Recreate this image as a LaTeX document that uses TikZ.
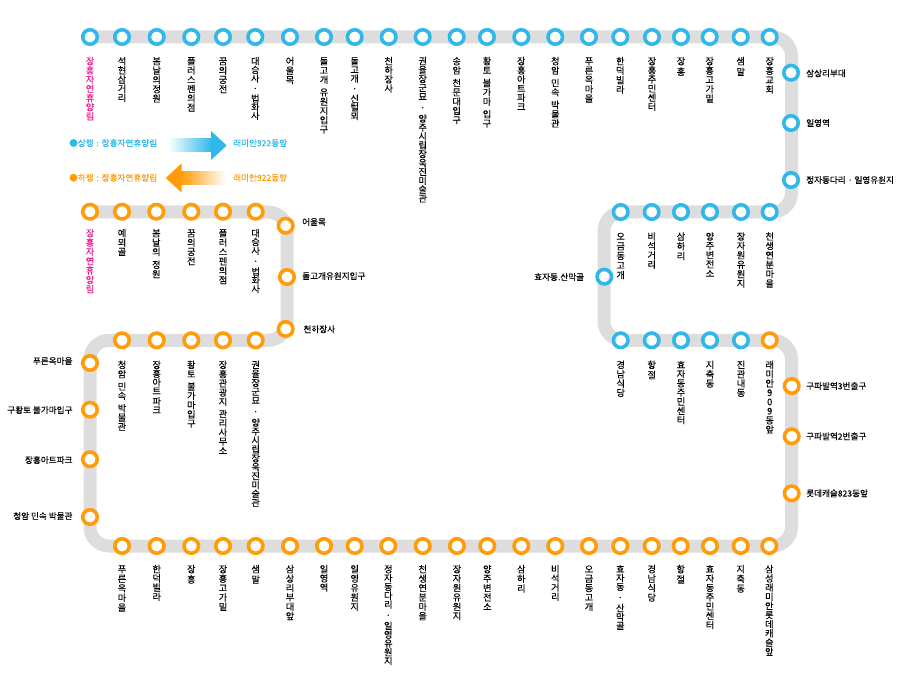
\documentclass[tikz,border=0pt]{standalone}
\usepackage{fontspec}
\newfontfamily\cjk[FakeBold=0.15]{Noto Sans CJK KR}
\definecolor{lineblue}{HTML}{30B8EA}
\definecolor{lineorange}{HTML}{FF9C08}
\definecolor{linegray}{HTML}{DDDDDD}
\definecolor{startpink}{HTML}{EC1A8C}
\makeatletter
\newcommand\vcell[1]{\hbox to 12pt{\hss\raisebox{0pt}[7.4pt][0.8pt]{#1}\hss}}
\def\vloop#1{\ifx#1\relax\else\vcell{#1}\expandafter\vnext\fi}
\def\vnext#1{\ifx#1\relax\else\vfil\ifx#1~\vfil\vfil\else\vcell{#1}\fi\expandafter\vnext\fi}
\newcommand\vtxt[2]{\vbox to #1{\offinterlineskip\vloop#2\relax}}
\makeatother
\tikzset{
  track/.style={draw=linegray,line width=13pt,rounded corners=19pt,line cap=butt},
  stnblue/.style={circle,draw=lineblue,fill=white,line width=3.6pt,minimum size=14.5pt,inner sep=0pt},
  stnorange/.style={circle,draw=lineorange,fill=white,line width=3.6pt,minimum size=14.5pt,inner sep=0pt},
  vlabel/.style={anchor=north,inner sep=0pt,font=\cjk\fontsize{9.2}{9.5}\selectfont},
  hlabelr/.style={anchor=west,inner sep=0pt,font=\cjk\fontsize{8.6}{9}\selectfont},
  hlabell/.style={anchor=east,inner sep=0pt,font=\cjk\fontsize{8.6}{9}\selectfont},
}
\newcommand\stn[4]{\node[#1] (#2) at (#3,#4) {};}
\newcommand\vl[6][black]{\node[vlabel,text=#1] (#2) at (#3,#4) {\vtxt{\dimexpr#5pt-#4pt\relax}{#6}};}
\begin{document}
\begin{tikzpicture}[x=1pt,y=-1pt]
\useasboundingbox (0,0) rectangle (903,676);
% track corners
\coordinate (tstart) at (90,37);
\coordinate (c1) at (791.5,37);
\coordinate (c2) at (791.5,212);
\coordinate (c3) at (604,212);
\coordinate (c4) at (604,340.3);
\coordinate (c5) at (791.5,340.3);
\coordinate (c6) at (791.5,546);
\coordinate (c7) at (90,546);
\coordinate (c8) at (90,340.3);
\coordinate (c9) at (287,340.3);
\coordinate (c10) at (287,212);
\coordinate (tend) at (90,212);
\draw[track] (tstart) -- (c1) -- (c2) -- (c3) -- (c4) -- (c5) -- (c6) -- (c7) -- (c8) -- (c9) -- (c10) -- (tend);
% top blue row
\stn{stnblue}{a1}{90}{37}\stn{stnblue}{a2}{122}{37}\stn{stnblue}{a3}{156.7}{37}\stn{stnblue}{a4}{191.3}{37}
\stn{stnblue}{a5}{223}{37}\stn{stnblue}{a6}{255.3}{37}\stn{stnblue}{a7}{290}{37}\stn{stnblue}{a8}{324}{37}
\stn{stnblue}{a9}{354.7}{37}\stn{stnblue}{a10}{388.7}{37}\stn{stnblue}{a11}{422.7}{37}\stn{stnblue}{a12}{456.7}{37}
\stn{stnblue}{a13}{487}{37}\stn{stnblue}{a14}{521.3}{37}\stn{stnblue}{a15}{555.3}{37}\stn{stnblue}{a16}{589}{37}
\stn{stnblue}{a17}{620.3}{37}\stn{stnblue}{a18}{652}{37}\stn{stnblue}{a19}{681}{37}\stn{stnblue}{a20}{709.7}{37}
\stn{stnblue}{a21}{740.7}{37}\stn{stnblue}{a22}{769.7}{37}
\vl[startpink]{la1}{90}{57}{119.5}{장흥자연휴양림}
\vl{la2}{122}{57}{101}{석현삼거리}
\vl{la3}{156.7}{57}{101.7}{봄날의정원}
\vl{la4}{191.3}{57}{110.7}{플러스펜의점}
\vl{la5}{223}{57}{92.3}{꿈의궁전}
\vl{la6}{255.3}{57}{119}{대승사~·~법화사}
\vl{la7}{290}{57}{83.3}{어울목}
\vl{la8}{324}{57}{132.7}{돌고개~유원지입구}
\vl{la9}{354.7}{57}{119.3}{돌고개~·~신털뫼}
\vl{la10}{388.7}{57}{91.7}{천하장사}
\vl{la11}{422.7}{57}{201.7}{권율장군묘~·~양주시립장욱진미술관}
\vl{la12}{456.7}{57}{123.3}{송암~천문대입구}
\vl{la13}{487}{57}{126.7}{황토~불가마~입구}
\vl{la14}{521.3}{57}{110}{장흥아트파크}
\vl{la15}{555.3}{57}{126.7}{청암~민속~박물관}
\vl{la16}{589}{57}{101.7}{푸른옥마을}
\vl{la17}{620.3}{57}{92.7}{한덕빌라}
\vl{la18}{652}{57}{110}{장흥주민센터}
\vl{la19}{681}{57}{75}{장흥}
\vl{la20}{709.7}{57}{101.7}{장흥고가밑}
\vl{la21}{740.7}{57}{75}{샘말}
\vl{la22}{769.7}{57}{92.7}{장흥교회}
% right side blue
\stn{stnblue}{b1}{791}{72.7}\stn{stnblue}{b2}{791}{123}\stn{stnblue}{b3}{791}{180}
\node[hlabelr] (lb1) at (806,73.3) {삼상리부대};
\node[hlabelr] (lb2) at (806,123) {일영역};
\node[hlabelr] (lb3) at (806,180) {정자동다리 · 일영유원지};
% blue row 2
\stn{stnblue}{c11}{769.7}{212}\stn{stnblue}{c12}{741}{212}\stn{stnblue}{c13}{710}{212}
\stn{stnblue}{c14}{681}{212}\stn{stnblue}{c15}{651.7}{212}\stn{stnblue}{c16}{620.7}{212}
\vl{lc11}{769.7}{232.3}{286.7}{천생연분마을}
\vl{lc12}{741}{232.3}{286.7}{장자원유원지}
\vl{lc13}{710}{232.3}{276.7}{양주변전소}
\vl{lc14}{681}{232.3}{259.3}{삼하리}
\vl{lc15}{651.7}{232.3}{267.7}{비석거리}
\vl{lc16}{620.7}{232.3}{278.3}{오금동고개}
\stn{stnblue}{d1}{604.3}{276.7}
\node[hlabell] (ld1) at (584.3,277) {효자동.산막골};
% blue row 3
\stn{stnblue}{e1}{620.7}{340.3}\stn{stnblue}{e2}{651.7}{340.3}\stn{stnblue}{e3}{681}{340.3}
\stn{stnblue}{e4}{710}{340.3}\stn{stnblue}{e5}{741}{340.3}\stn{stnorange}{e6}{769.7}{340.3}
\vl{le1}{620.7}{360.7}{396}{경남식당}
\vl{le2}{651.7}{360.7}{378.3}{항절}
\vl{le3}{681}{360.7}{423.3}{효자동주민센터}
\vl{le4}{710}{360.7}{386.7}{지축동}
\vl{le5}{741}{360.7}{396}{진관내동}
\vl{le6}{769.7}{360.7}{432.7}{래미안909동앞}
% right orange
\stn{stnorange}{f1}{791.7}{386}\stn{stnorange}{f2}{791.7}{436.3}\stn{stnorange}{f3}{791.7}{493.3}
\node[hlabelr] (lf1) at (806,386) {구파발역3번출구};
\node[hlabelr] (lf2) at (806,436.3) {구파발역2번출구};
\node[hlabelr] (lf3) at (806,493.3) {롯데캐슬823동앞};
% bottom row
\stn{stnorange}{g1}{122}{546}\stn{stnorange}{g2}{156.7}{546}\stn{stnorange}{g3}{191.3}{546}\stn{stnorange}{g4}{223}{546}
\stn{stnorange}{g5}{255.7}{546}\stn{stnorange}{g6}{290}{546}\stn{stnorange}{g7}{324}{546}\stn{stnorange}{g8}{354.7}{546}
\stn{stnorange}{g9}{388.3}{546}\stn{stnorange}{g10}{422.7}{546}\stn{stnorange}{g11}{457}{546}\stn{stnorange}{g12}{487.3}{546}
\stn{stnorange}{g13}{521.3}{546}\stn{stnorange}{g14}{555.3}{546}\stn{stnorange}{g15}{589}{546}\stn{stnorange}{g16}{620.3}{546}
\stn{stnorange}{g17}{651.7}{546}\stn{stnorange}{g18}{680.7}{546}\stn{stnorange}{g19}{710}{546}\stn{stnorange}{g20}{740.7}{546}
\stn{stnorange}{g21}{769.3}{546}
\vl{lg1}{122}{565}{610.7}{푸른옥마을}
\vl{lg2}{156.7}{565}{600}{한덕빌라}
\vl{lg3}{191.3}{565}{582.7}{장흥}
\vl{lg4}{223}{565}{610}{장흥고가밑}
\vl{lg5}{255.7}{565}{582.7}{샘말}
\vl{lg6}{290}{565}{619.3}{삼상리부대앞}
\vl{lg7}{324}{565}{590.7}{일영역}
\vl{lg8}{354.7}{565}{610}{일영유원지}
\vl{lg9}{388.3}{565}{664.3}{정자동다리~·~일영유원지}
\vl{lg10}{422.7}{565}{619.3}{천생연분마을}
\vl{lg11}{457}{565}{619.3}{장자원유원지}
\vl{lg12}{487.3}{565}{610}{양주변전소}
\vl{lg13}{521.3}{565}{591.7}{삼하리}
\vl{lg14}{555.3}{565}{600}{비석거리}
\vl{lg15}{589}{565}{610}{오금동고개}
\vl{lg16}{620.3}{565}{629}{효자동~·~산막골}
\vl{lg17}{651.7}{565}{600.7}{경남식당}
\vl{lg18}{680.7}{565}{582.7}{항절}
\vl{lg19}{710}{565}{628.3}{효자동주민센터}
\vl{lg20}{740.7}{565}{591.7}{지축동}
\vl{lg21}{769.3}{565}{655}{삼성래미안롯데캐슬앞}
% left orange
\stn{stnorange}{h1}{90}{363}\stn{stnorange}{h2}{90}{409.7}\stn{stnorange}{h3}{90}{459.3}\stn{stnorange}{h4}{90}{517}
\node[hlabell] (lh1) at (72.7,361) {푸른옥마을};
\node[hlabell] (lh2) at (72.7,410) {구황토 불가마입구};
\node[hlabell] (lh3) at (72.7,460) {장흥아트파크};
\node[hlabell] (lh4) at (72.7,516) {청암 민속 박물관};
% orange row 3
\stn{stnorange}{i1}{122}{340.3}\stn{stnorange}{i2}{156.7}{340.3}\stn{stnorange}{i3}{191.3}{340.3}\stn{stnorange}{i4}{223}{340.3}\stn{stnorange}{i5}{255.7}{340.3}
\vl{li1}{122}{360.7}{430}{청암~민속~박물관}
\vl{li2}{156.7}{360.7}{413.3}{장흥아트~파크}
\vl{li3}{191.3}{360.7}{426.7}{황토~불가마입구}
\vl{li4}{223}{360.7}{454}{장흥관광지~관리사무소}
\vl{li5}{255.7}{360.7}{506}{권율장군묘~·~양주시립장욱진미술관}
% orange right part
\stn{stnorange}{j1}{285.7}{225.7}\stn{stnorange}{j2}{287}{277}\stn{stnorange}{j3}{285.7}{329}
\node[hlabelr] (lj1) at (302,222) {어울목};
\node[hlabelr] (lj2) at (302,276) {돌고개유원지입구};
\node[hlabelr] (lj3) at (303.3,329.3) {천하장사};
% orange row 1
\stn{stnorange}{k1}{90}{211.7}\stn{stnorange}{k2}{122}{211.7}\stn{stnorange}{k3}{156.3}{211.7}\stn{stnorange}{k4}{191.3}{211.7}\stn{stnorange}{k5}{223}{211.7}\stn{stnorange}{k6}{255.7}{211.7}
\vl[startpink]{lk1}{90}{229}{292.3}{장흥자연휴양림}
\vl{lk2}{122}{229}{255}{예뫼골}
\vl{lk3}{156.3}{229}{277.3}{봄날의~정원}
\vl{lk4}{191.3}{229}{264.3}{꿈의궁전}
\vl{lk5}{223}{229}{283.3}{플러스펜의점}
\vl{lk6}{255.7}{229}{292.3}{대승사~·~법화사}
% legend
\node[hlabelr,text=lineblue] (up1) at (69,143) {●상행\,\,:\,\,장흥자연휴양림};
\node[hlabelr,text=lineblue] (up2) at (233,143) {래미안922동앞};
\node[hlabelr,text=lineorange] (dn1) at (69,177.7) {●하행\,\,:\,\,장흥자연휴양림};
\node[hlabelr,text=lineorange] (dn2) at (233,177.7) {래미안922동앞};
\shade[left color=white,right color=lineblue] (168,139) rectangle (211.5,151.7);
\fill[lineblue] (211,131) -- (226.7,145.5) -- (211,160) -- cycle;
\shade[left color=lineorange,right color=white] (181,172) rectangle (225.7,184.3);
\fill[lineorange] (181.7,163.3) -- (165.7,178) -- (181.7,192.7) -- cycle;
\end{tikzpicture}
\end{document}
